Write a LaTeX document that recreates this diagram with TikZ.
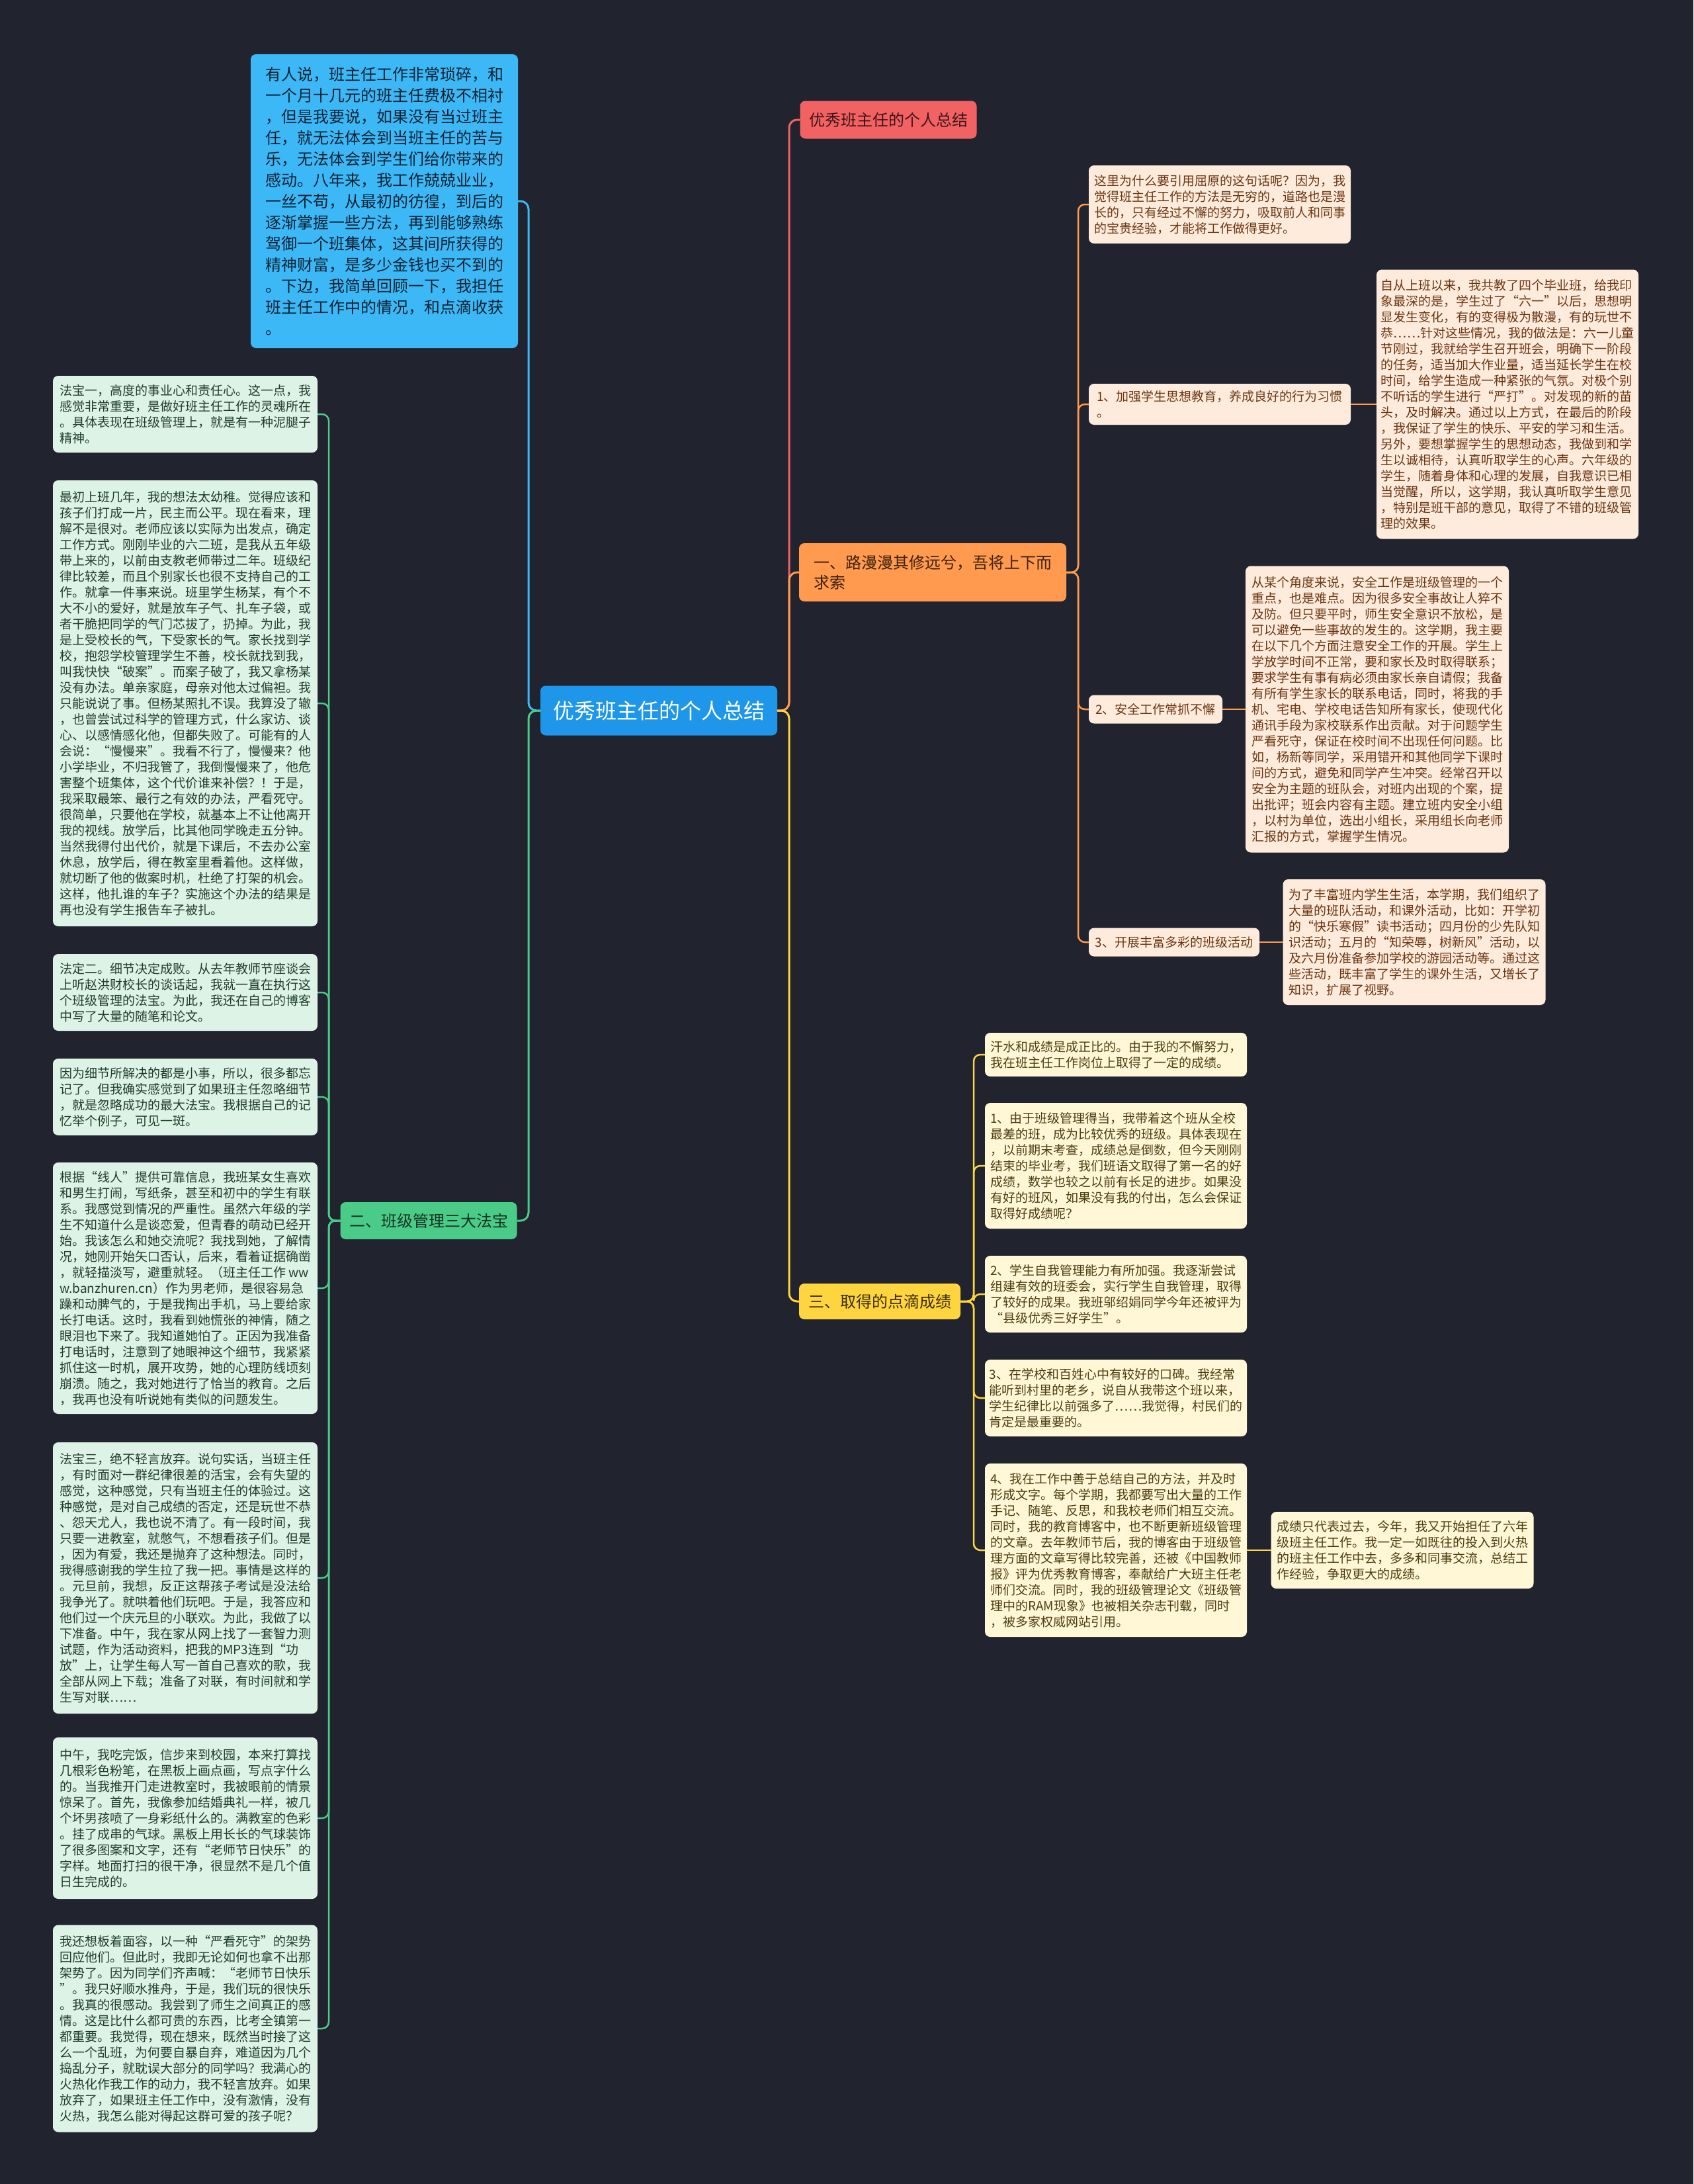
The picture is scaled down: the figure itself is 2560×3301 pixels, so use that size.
\documentclass[tikz,border=0pt]{standalone}
\usepackage{fontspec}
\setmainfont{Noto Sans CJK SC}

\definecolor{bgdark}{HTML}{21242F}
\definecolor{rootblue}{HTML}{1E96EA}
\definecolor{introblue}{HTML}{3DB8F6}
\definecolor{introtext}{HTML}{0F2233}
\definecolor{redfill}{HTML}{F26262}
\definecolor{redtext}{HTML}{3B1418}
\definecolor{orangefill}{HTML}{FF9A4E}
\definecolor{orangetext}{HTML}{3D220E}
\definecolor{peachfill}{HTML}{FEEBDC}
\definecolor{peachtext}{HTML}{6A3612}
\definecolor{greenfill}{HTML}{4BCB88}
\definecolor{greentext}{HTML}{133323}
\definecolor{mintfill}{HTML}{DDF3E6}
\definecolor{minttext}{HTML}{1F3D2C}
\definecolor{yellowfill}{HTML}{FFD53F}
\definecolor{yellowtext}{HTML}{3A2E05}
\definecolor{creamfill}{HTML}{FFF7D6}
\definecolor{creamtext}{HTML}{4D3D10}

\begin{document}
\begin{tikzpicture}[
    x=1pt, y=-1pt,
    card/.style n args={3}{
        fill=#1,
        minimum width=#2,
        minimum height=#3,
        inner sep=0pt,
        outer sep=0pt,
        rounded corners=8pt,
        align=left
    },
    rootfont/.style={font=\fontsize{32}{38}\selectfont, text=white},
    bigfont/.style={font=\fontsize{24}{30}\selectfont},
    introfont/.style={font=\fontsize{24}{32}\selectfont, text=introtext},
    leaffont/.style={font=\fontsize{19}{24}\selectfont},
    link/.style={line width=3pt, rounded corners=12pt},
    sublink/.style={line width=2.5pt, rounded corners=10pt}
]
% --- page ---
\fill[bgdark] (0,0) rectangle (2560,3301);

% --- spine positions (px) ---
\coordinate (Lspine) at (799,0);
\coordinate (Gspine) at (497,0);
\coordinate (Rspine) at (1193,0);
\coordinate (Ospine) at (1630,0);
\coordinate (Yspine) at (1472,0);

% ---- root ----
\node[card={rootblue}{358pt}{75pt}, rootfont] (summary) at (996,1074)
    {优秀班主任的个人总结};

% ---- left: intro ----
\node[card={introblue}{404pt}{444pt}, introfont] (intro) at (581,304)
    {有人说，班主任工作非常琐碎，和\\
一个月十几元的班主任费极不相衬\\
，但是我要说，如果没有当过班主\\
任，就无法体会到当班主任的苦与\\
乐，无法体会到学生们给你带来的\\
感动。八年来，我工作兢兢业业，\\
一丝不苟，从最初的彷徨，到后的\\
逐渐掌握一些方法，再到能够熟练\\
驾御一个班集体，这其间所获得的\\
精神财富，是多少金钱也买不到的\\
。下边，我简单回顾一下，我担任\\
班主任工作中的情况，和点滴收获\\
。};

% ---- left: 二、班级管理三大法宝 ----
\node[card={greenfill}{267pt}{56pt}, bigfont, text=greentext] (tools) at (648,1845)
    {二、班级管理三大法宝};

\begin{scope}[every node/.style={leaffont, text=minttext}]
\node[card={mintfill}{400pt}{116pt}] (tools1) at (280,626)
    {法宝一，高度的事业心和责任心。这一点，我\\
感觉非常重要，是做好班主任工作的灵魂所在\\
。具体表现在班级管理上，就是有一种泥腿子\\
精神。};
\node[card={mintfill}{400pt}{674pt}] (tools2) at (280,1063)
    {最初上班几年，我的想法太幼稚。觉得应该和\\
孩子们打成一片，民主而公平。现在看来，理\\
解不是很对。老师应该以实际为出发点，确定\\
工作方式。刚刚毕业的六二班，是我从五年级\\
带上来的，以前由支教老师带过二年。班级纪\\
律比较差，而且个别家长也很不支持自己的工\\
作。就拿一件事来说。班里学生杨某，有个不\\
大不小的爱好，就是放车子气、扎车子袋，或\\
者干脆把同学的气门芯拔了，扔掉。为此，我\\
是上受校长的气，下受家长的气。家长找到学\\
校，抱怨学校管理学生不善，校长就找到我，\\
叫我快快“破案”。而案子破了，我又拿杨某\\
没有办法。单亲家庭，母亲对他太过偏袒。我\\
只能说说了事。但杨某照扎不误。我算没了辙\\
，也曾尝试过科学的管理方式，什么家访、谈\\
心、以感情感化他，但都失败了。可能有的人\\
会说：“慢慢来”。我看不行了，慢慢来？他\\
小学毕业，不归我管了，我倒慢慢来了，他危\\
害整个班集体，这个代价谁来补偿？！于是，\\
我采取最笨、最行之有效的办法，严看死守。\\
很简单，只要他在学校，就基本上不让他离开\\
我的视线。放学后，比其他同学晚走五分钟。\\
当然我得付出代价，就是下课后，不去办公室\\
休息，放学后，得在教室里看着他。这样做，\\
就切断了他的做案时机，杜绝了打架的机会。\\
这样，他扎谁的车子？实施这个办法的结果是\\
再也没有学生报告车子被扎。};
\node[card={mintfill}{400pt}{116pt}] (tools3) at (280,1500)
    {法定二。细节决定成败。从去年教师节座谈会\\
上听赵洪财校长的谈话起，我就一直在执行这\\
个班级管理的法宝。为此，我还在自己的博客\\
中写了大量的随笔和论文。};
\node[card={mintfill}{400pt}{116pt}] (tools4) at (280,1658)
    {因为细节所解决的都是小事，所以，很多都忘\\
记了。但我确实感觉到了如果班主任忽略细节\\
，就是忽略成功的最大法宝。我根据自己的记\\
忆举个例子，可见一斑。};
\node[card={mintfill}{400pt}{380pt}] (tools5) at (280,1947)
    {根据“线人”提供可靠信息，我班某女生喜欢\\
和男生打闹，写纸条，甚至和初中的学生有联\\
系。我感觉到情况的严重性。虽然六年级的学\\
生不知道什么是谈恋爱，但青春的萌动已经开\\
始。我该怎么和她交流呢？我找到她，了解情\\
况，她刚开始矢口否认，后来，看着证据确凿\\
，就轻描淡写，避重就轻。（班主任工作 ww\\
w.banzhuren.cn）作为男老师，是很容易急\\
躁和动脾气的，于是我掏出手机，马上要给家\\
长打电话。这时，我看到她慌张的神情，随之\\
眼泪也下来了。我知道她怕了。正因为我准备\\
打电话时，注意到了她眼神这个细节，我紧紧\\
抓住这一时机，展开攻势，她的心理防线顷刻\\
崩溃。随之，我对她进行了恰当的教育。之后\\
，我再也没有听说她有类似的问题发生。};
\node[card={mintfill}{400pt}{410pt}] (tools6) at (280,2385)
    {法宝三，绝不轻言放弃。说句实话，当班主任\\
，有时面对一群纪律很差的活宝，会有失望的\\
感觉，这种感觉，只有当班主任的体验过。这\\
种感觉，是对自己成绩的否定，还是玩世不恭\\
、怨天尤人，我也说不清了。有一段时间，我\\
只要一进教室，就憋气，不想看孩子们。但是\\
，因为有爱，我还是抛弃了这种想法。同时，\\
我得感谢我的学生拉了我一把。事情是这样的\\
。元旦前，我想，反正这帮孩子考试是没法给\\
我争光了。就哄着他们玩吧。于是，我答应和\\
他们过一个庆元旦的小联欢。为此，我做了以\\
下准备。中午，我在家从网上找了一套智力测\\
试题，作为活动资料，把我的MP3连到“功\\
放”上，让学生每人写一首自己喜欢的歌，我\\
全部从网上下载；准备了对联，有时间就和学\\
生写对联……};
\node[card={mintfill}{400pt}{244pt}] (tools7) at (280,2748)
    {中午，我吃完饭，信步来到校园，本来打算找\\
几根彩色粉笔，在黑板上画点画，写点字什么\\
的。当我推开门走进教室时，我被眼前的情景\\
惊呆了。首先，我像参加结婚典礼一样，被几\\
个坏男孩喷了一身彩纸什么的。满教室的色彩\\
。挂了成串的气球。黑板上用长长的气球装饰\\
了很多图案和文字，还有“老师节日快乐”的\\
字样。地面打扫的很干净，很显然不是几个值\\
日生完成的。};
\node[card={mintfill}{400pt}{313pt}] (tools8) at (280,3066)
    {我还想板着面容，以一种“严看死守”的架势\\
回应他们。但此时，我即无论如何也拿不出那\\
架势了。因为同学们齐声喊：“老师节日快乐\\
”。我只好顺水推舟，于是，我们玩的很快乐\\
。我真的很感动。我尝到了师生之间真正的感\\
情。这是比什么都可贵的东西，比考全镇第一\\
都重要。我觉得，现在想来，既然当时接了这\\
么一个乱班，为何要自暴自弃，难道因为几个\\
捣乱分子，就耽误大部分的同学吗？我满心的\\
火热化作我工作的动力，我不轻言放弃。如果\\
放弃了，如果班主任工作中，没有激情，没有\\
火热，我怎么能对得起这群可爱的孩子呢？};
\end{scope}

% ---- right: 优秀班主任的个人总结 ----
\node[card={redfill}{267pt}{57pt}, bigfont, text=redtext] (heading) at (1343,181)
    {优秀班主任的个人总结};

% ---- right: 一、路漫漫其修远兮 ----
\node[card={orangefill}{404pt}{88pt}, bigfont, text=orangetext] (road) at (1410,865)
    {一、路漫漫其修远兮，吾将上下而\\求索};

\begin{scope}[every node/.style={leaffont, text=peachtext}]
\node[card={peachfill}{396pt}{118pt}] (road1) at (1844,309)
    {这里为什么要引用屈原的这句话呢？因为，我\\
觉得班主任工作的方法是无穷的，道路也是漫\\
长的，只有经过不懈的努力，吸取前人和同事\\
的宝贵经验，才能将工作做得更好。};
\node[card={peachfill}{396pt}{62pt}] (road2) at (1844,611)
    {1、加强学生思想教育，养成良好的行为习惯\\。};
\node[card={peachfill}{396pt}{407pt}] (road2x) at (2279,611)
    {自从上班以来，我共教了四个毕业班，给我印\\
象最深的是，学生过了“六一”以后，思想明\\
显发生变化，有的变得极为散漫，有的玩世不\\
恭……针对这些情况，我的做法是：六一儿童\\
节刚过，我就给学生召开班会，明确下一阶段\\
的任务，适当加大作业量，适当延长学生在校\\
时间，给学生造成一种紧张的气氛。对极个别\\
不听话的学生进行“严打”。对发现的新的苗\\
头，及时解决。通过以上方式，在最后的阶段\\
，我保证了学生的快乐、平安的学习和生活。\\
另外，要想掌握学生的思想动态，我做到和学\\
生以诚相待，认真听取学生的心声。六年级的\\
学生，随着身体和心理的发展，自我意识已相\\
当觉醒，所以，这学期，我认真听取学生意见\\
，特别是班干部的意见，取得了不错的班级管\\
理的效果。};
\node[card={peachfill}{202pt}{43pt}] (road3) at (1747,1072)
    {2、安全工作常抓不懈};
\node[card={peachfill}{398pt}{433pt}] (road3x) at (2082,1072)
    {从某个角度来说，安全工作是班级管理的一个\\
重点，也是难点。因为很多安全事故让人猝不\\
及防。但只要平时，师生安全意识不放松，是\\
可以避免一些事故的发生的。这学期，我主要\\
在以下几个方面注意安全工作的开展。学生上\\
学放学时间不正常，要和家长及时取得联系；\\
要求学生有事有病必须由家长亲自请假；我备\\
有所有学生家长的联系电话，同时，将我的手\\
机、宅电、学校电话告知所有家长，使现代化\\
通讯手段为家校联系作出贡献。对于问题学生\\
严看死守，保证在校时间不出现任何问题。比\\
如，杨新等同学，采用错开和其他同学下课时\\
间的方式，避免和同学产生冲突。经常召开以\\
安全为主题的班队会，对班内出现的个案，提\\
出批评；班会内容有主题。建立班内安全小组\\
，以村为单位，选出小组长，采用组长向老师\\
汇报的方式，掌握学生情况。};
\node[card={peachfill}{258pt}{43pt}] (road4) at (1775,1424)
    {3、开展丰富多彩的班级活动};
\node[card={peachfill}{397pt}{190pt}] (road4x) at (2138,1424)
    {为了丰富班内学生生活，本学期，我们组织了\\
大量的班队活动，和课外活动，比如：开学初\\
的“快乐寒假”读书活动；四月份的少先队知\\
识活动；五月的“知荣辱，树新风”活动，以\\
及六月份准备参加学校的游园活动等。通过这\\
些活动，既丰富了学生的课外生活，又增长了\\
知识，扩展了视野。};
\end{scope}

% ---- right: 三、取得的点滴成绩 ----
\node[card={yellowfill}{244pt}{54pt}, bigfont, text=yellowtext] (results) at (1330,1967)
    {三、取得的点滴成绩};

\begin{scope}[every node/.style={leaffont, text=creamtext}]
\node[card={creamfill}{396pt}{66pt}] (res1) at (1687,1594)
    {汗水和成绩是成正比的。由于我的不懈努力，\\
我在班主任工作岗位上取得了一定的成绩。};
\node[card={creamfill}{396pt}{190pt}] (res2) at (1687,1762)
    {1、由于班级管理得当，我带着这个班从全校\\
最差的班，成为比较优秀的班级。具体表现在\\
，以前期末考查，成绩总是倒数，但今天刚刚\\
结束的毕业考，我们班语文取得了第一名的好\\
成绩，数学也较之以前有长足的进步。如果没\\
有好的班风，如果没有我的付出，怎么会保证\\
取得好成绩呢？};
\node[card={creamfill}{396pt}{116pt}] (res3) at (1687,1956)
    {2、学生自我管理能力有所加强。我逐渐尝试\\
组建有效的班委会，实行学生自我管理，取得\\
了较好的成果。我班邬绍娟同学今年还被评为\\
“县级优秀三好学生”。};
\node[card={creamfill}{396pt}{116pt}] (res4) at (1687,2113)
    {3、在学校和百姓心中有较好的口碑。我经常\\
能听到村里的老乡，说自从我带这个班以来，\\
学生纪律比以前强多了……我觉得，村民们的\\
肯定是最重要的。};
\node[card={creamfill}{396pt}{262pt}] (res5) at (1687,2343)
    {4、我在工作中善于总结自己的方法，并及时\\
形成文字。每个学期，我都要写出大量的工作\\
手记、随笔、反思，和我校老师们相互交流。\\
同时，我的教育博客中，也不断更新班级管理\\
的文章。去年教师节后，我的博客由于班级管\\
理方面的文章写得比较完善，还被《中国教师\\
报》评为优秀教育博客，奉献给广大班主任老\\
师们交流。同时，我的班级管理论文《班级管\\
理中的RAM现象》也被相关杂志刊载，同时\\
，被多家权威网站引用。};
\node[card={creamfill}{397pt}{116pt}] (res5x) at (2120,2343)
    {成绩只代表过去，今年，我又开始担任了六年\\
级班主任工作。我一定一如既往的投入到火热\\
的班主任工作中去，多多和同事交流，总结工\\
作经验，争取更大的成绩。};
\end{scope}

% ---- connectors: root level ----
\draw[link, introblue] (summary.west) -- (summary.west -| Lspine) |- (intro.east);
\draw[link, greenfill] (summary.west) -- (summary.west -| Lspine) |- (tools.east);
\draw[link, redfill] (summary.east) -- (summary.east -| Rspine) |- (heading.west);
\draw[link, orangefill] (summary.east) -- (summary.east -| Rspine) |- (road.west);
\draw[link, yellowfill] (summary.east) -- (summary.east -| Rspine) |- (results.west);

% ---- connectors: second level ----
\foreach \n in {1,...,8}
    \draw[sublink, greenfill] (tools.west) -- (tools.west -| Gspine) |- (tools\n.east);
\foreach \n in {1,...,4}
    \draw[sublink, orangefill] (road.east) -- (road.east -| Ospine) |- (road\n.west);
\foreach \n in {1,...,5}
    \draw[sublink, yellowfill] (results.east) -- (results.east -| Yspine) |- (res\n.west);

% ---- connectors: third level ----
\draw[sublink, orangefill] (road2.east) -- (road2x.west);
\draw[sublink, orangefill] (road3.east) -- (road3x.west);
\draw[sublink, orangefill] (road4.east) -- (road4x.west);
\draw[sublink, yellowfill] (res5.east) -- (res5x.west);

\end{tikzpicture}
\end{document}
